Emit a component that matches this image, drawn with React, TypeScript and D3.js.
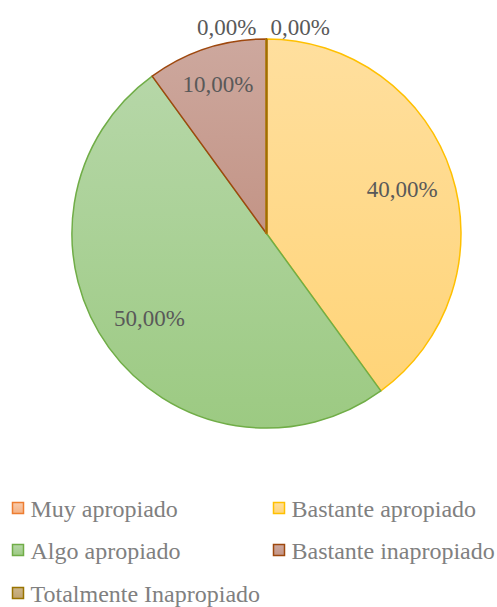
import { useEffect, useRef } from 'react';
import * as d3 from 'd3';

const categories = ['Muy apropiado', 'Bastante apropiado', 'Algo apropiado', 'Bastante inapropiado', 'Totalmente Inapropiado'];
const values = [0, 40, 50, 10, 0];
const labels = ['0,00%', '40,00%', '50,00%', '10,00%', '0,00%'];
const strokes = ['#ED7D31', '#FFC000', '#70AD47', '#9E480E', '#997300'];
const fillTop = ['#F8CBAD', '#FFDF9E', '#B6D7A8', '#CDA89E', '#CDB68A'];
const fillBottom = ['#F4B183', '#FFD478', '#9CCA82', '#C39486', '#BFA36E'];

const FONT = '"Liberation Serif", "Times New Roman", Times, serif';

export default function App() {
  const svgRef = useRef<SVGSVGElement>(null);

  useEffect(() => {
    const width = 497;
    const height = 607;
    const cx = 266.5;
    const cy = 233.5;
    const r = 194.5;

    const svg = d3.select(svgRef.current)
      .attr('width', width)
      .attr('height', height);
    svg.selectAll('*').remove();

    // gradients for slices
    const defs = svg.append('defs');
    categories.forEach((c, i) => {
      const g = defs.append('linearGradient')
        .attr('id', `grad${i}`)
        .attr('x1', 0).attr('y1', 0).attr('x2', 0).attr('y2', 1);
      g.append('stop').attr('offset', '0%').attr('stop-color', fillTop[i]);
      g.append('stop').attr('offset', '100%').attr('stop-color', fillBottom[i]);
    });

    const pie = d3.pie<number>().sort(null).value(d => d);
    const arcs = pie(values);
    const arc = d3.arc<d3.PieArcDatum<number>>().innerRadius(0).outerRadius(r);

    const g = svg.append('g').attr('transform', `translate(${cx},${cy})`);

    g.selectAll('path')
      .data(arcs)
      .join('path')
      .attr('d', arc)
      .attr('fill', (d, i) => `url(#grad${i})`)
      .attr('stroke', (d, i) => strokes[i])
      .attr('stroke-width', 1.5)
      .attr('stroke-linejoin', 'round');

    // zero slices show as a line from centre to top
    arcs.forEach((d, i) => {
      if (d.value === 0) {
        g.append('line')
          .attr('x1', 0).attr('y1', 0)
          .attr('x2', r * Math.sin(d.startAngle))
          .attr('y2', -r * Math.cos(d.startAngle))
          .attr('stroke', strokes[i])
          .attr('stroke-width', 2);
      }
    });

    // labels: inside ones pushed out until the far corner of the box hits reach
    const fs = 23;
    const halfH = 9;
    const reach = 0.922 * r;
    arcs.forEach((d, i) => {
      const t = g.append('text')
        .attr('font-family', FONT)
        .attr('font-size', fs)
        .attr('fill', '#595959')
        .text(labels[i]);
      const w = (t.node() as SVGTextElement).getComputedTextLength();
      if (d.value === 0) {
        // outside, either side of the top
        const left = i !== 0;
        t.attr('text-anchor', left ? 'end' : 'start')
          .attr('x', left ? -10 : 4)
          .attr('y', -r - 4);
        return;
      }
      const a = (d.startAngle + d.endAngle) / 2;
      const ux = Math.sin(a);
      const uy = -Math.cos(a);
      let lo = 0;
      let hi = r;
      for (let k = 0; k < 30; k++) {
        const m = (lo + hi) / 2;
        const px = m * ux;
        const py = m * uy;
        const fx = px + Math.sign(ux) * w / 2;
        const fy = py + Math.sign(uy) * halfH;
        if (Math.hypot(fx, fy) > reach) hi = m; else lo = m;
      }
      t.attr('text-anchor', 'middle')
        .attr('x', lo * ux)
        .attr('y', lo * uy + 0.34 * fs);
    });

    // legend
    const legend = svg.append('g');
    const colX = [12.5, 273.5];
    const rowY = [502.5, 544.5, 587.5];
    categories.forEach((c, i) => {
      const item = legend.append('g')
        .attr('transform', `translate(${colX[i % 2]},${rowY[Math.floor(i / 2)]})`);
      item.append('rect')
        .attr('width', 11)
        .attr('height', 11)
        .attr('fill', `url(#grad${i})`)
        .attr('stroke', strokes[i])
        .attr('stroke-width', 1.5);
      item.append('text')
        .attr('x', 18)
        .attr('y', 14.5)
        .attr('font-family', FONT)
        .attr('font-size', 24)
        .attr('fill', '#808080')
        .text(c);
    });
  }, []);

  return (
    <div style={{ position: 'absolute', left: 0, top: 0 }}>
      <svg ref={svgRef}></svg>
    </div>
  );
}
